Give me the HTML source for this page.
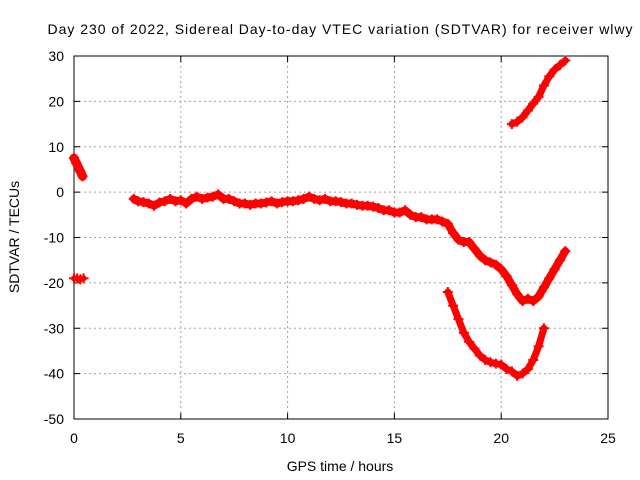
<!DOCTYPE html>
<html><head><meta charset="utf-8">
<style>
html,body{margin:0;padding:0;background:#fff;}
svg{display:block;font-family:"Liberation Sans",sans-serif;}
</style></head>
<body>
<svg id="chart" width="640" height="480">
<g id="grid"></g>
<g id="axes"></g>
<g id="series"></g>
<text x="340" y="34" text-anchor="middle" font-size="14" textLength="585">Day 230 of 2022, Sidereal Day-to-day VTEC variation (SDTVAR) for receiver wlwy</text>
<text x="340" y="471" text-anchor="middle" font-size="14">GPS time / hours</text>
<text x="0" y="0" transform="translate(19,237) rotate(-90)" text-anchor="middle" font-size="14">SDTVAR / TECUs</text>
</svg>
<script>
const xTicks=[0,5,10,15,20,25];
const yTicks=[30,20,10,0,-10,-20,-30,-40,-50];
const segAx=[0.0,0.1,0.2,0.3,0.4];
const segAy=[7.5,6.5,5.5,4.5,3.5];
const segA2x=[0.0,0.15,0.3,0.45];
const segA2y=[-19,-19,-19.2,-19];
const segBx=[2.8,3.0,3.25,3.5,3.75,4.0,4.25,4.5,4.75,5.0,5.25,5.5,5.75,6.0,6.25,6.5,6.75,7.0,7.25,7.5,7.75,8.0,8.25,8.5,8.75,9.0,9.25,9.5,9.75,10.0,10.25,10.5,10.75,11.0,11.25,11.5,11.75,12.0,12.25,12.5,12.75,13.0,13.25,13.5,13.75,14.0,14.25,14.5,14.75,15.0,15.25,15.5,15.75,16.0,16.25,16.5,16.75,17.0,17.25,17.5,17.75,18.0,18.25,18.5,18.75,19.0,19.25,19.5,19.75,20.0,20.25,20.5,20.75,21.0,21.25,21.5,21.75,22.0,22.25,22.5,22.75,23.0];
const segBy=[-1.5,-2,-2.2,-2.5,-3,-2.3,-2,-1.5,-2,-1.8,-2.5,-1.5,-1,-1.5,-1.2,-1,-0.5,-1.5,-1.5,-2,-2.5,-2.5,-2.8,-2.5,-2.5,-2.3,-2,-2.5,-2.2,-2,-2,-1.8,-1.5,-1,-1.5,-1.8,-1.5,-2,-2,-2.2,-2.5,-2.5,-2.8,-3,-3,-3.2,-3.5,-4,-4,-4.5,-4.5,-4,-5,-5.5,-5.5,-6,-6,-6,-6.5,-7,-9,-10.5,-11,-11,-12.5,-14,-15,-15.5,-16,-17,-18.5,-20.5,-22.5,-24,-23.5,-24,-23,-21,-19,-17,-15,-13];
const segCx=[17.5,17.75,18.0,18.25,18.5,18.75,19.0,19.25,19.5,19.75,20.0,20.25,20.5,20.75,21.0,21.25,21.5,21.75,22.0];
const segCy=[-22,-25,-28,-31,-33,-34.5,-36,-37,-37.5,-37.8,-38,-39,-39.5,-40.5,-40,-39,-37,-34,-30];
const segDx=[20.5,20.75,21.0,21.25,21.5,21.75,22.0,22.25,22.5,22.75,23.0];
const segDy=[15,15.5,16.5,18,19.5,21,23.5,25.5,27,28,29];

const X0=74,X1=608,Y0=419,Y1=56;
function sx(v){return X0+(v-0)/(25-0)*(X1-X0);}
function sy(v){return Y0-(v+50)/(80)*(Y0-Y1);}
const NS="http://www.w3.org/2000/svg";
function mk(tag,attrs,parent){const e=document.createElementNS(NS,tag);for(const k in attrs)e.setAttribute(k,attrs[k]);parent.appendChild(e);return e;}
const grid=document.getElementById('grid'),axes=document.getElementById('axes'),ser=document.getElementById('series');
xTicks.forEach(t=>{
  const x=sx(t);
  if(t>0&&t<25){const l=mk('line',{x1:x,x2:x,y1:Y1,y2:Y0,stroke:'#a0a0a0','stroke-dasharray':'2,3','stroke-width':1},grid);
  
  }
  const tk=mk('line',{x1:x,x2:x,y1:Y0,y2:Y0-6,stroke:'#000'},axes);
  
  
  const tk2=mk('line',{x1:x,x2:x,y1:Y1,y2:Y1+6,stroke:'#000'},axes);
  
  
  const tx=mk('text',{x:x,y:443,'text-anchor':'middle','font-size':14},axes);tx.textContent=t;
  
  
});
yTicks.forEach(t=>{
  const y=sy(t);
  if(t>-50&&t<30){const l=mk('line',{x1:X0,x2:X1,y1:y,y2:y,stroke:'#a0a0a0','stroke-dasharray':'2,3','stroke-width':1},grid);
  
  }
  const tk=mk('line',{x1:X0,x2:X0+6,y1:y,y2:y,stroke:'#000'},axes);
  
  
  const tk2=mk('line',{x1:X1,x2:X1-6,y1:y,y2:y,stroke:'#000'},axes);
  
  
  const tx=mk('text',{x:X0-10,y:y+5,'text-anchor':'end','font-size':14},axes);tx.textContent=t;
  
  
});
const frame=mk('rect',{x:X0,y:Y1,width:X1-X0,height:Y0-Y1,fill:'none',stroke:'#000','stroke-width':1},axes);


function drawSeg(xs,ys,name,w){
  const pts=xs.map((v,i)=>sx(v)+','+sy(ys[i])).join(' ');
  const pl=mk('polyline',{points:pts,fill:'none',stroke:'#ff0000','stroke-width':w,'stroke-linejoin':'round','stroke-linecap':'round'},ser);
  
  
  xs.forEach((v,i)=>{
    const x=sx(v),y=sy(ys[i]);
    const p=mk('path',{d:`M${x-5},${y}H${x+5}M${x},${y-5}V${y+5}`,stroke:'#ff0000','stroke-width':2},ser);
    
    
  });
}
drawSeg(segAx,segAy,'series-early-high',9);
drawSeg(segA2x,segA2y,'series-early-low',6);
drawSeg(segBx,segBy,'series-main',8);
drawSeg(segCx,segCy,'series-lower-arc',7);
drawSeg(segDx,segDy,'series-upper-rise',7);
</script>
</body></html>
